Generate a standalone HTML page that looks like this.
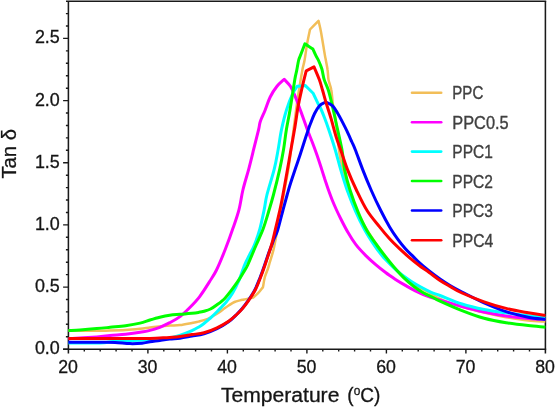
<!DOCTYPE html>
<html><head><meta charset="utf-8"><title>Tan delta vs Temperature</title>
<style>html,body{margin:0;padding:0;background:#fff}body{width:555px;height:408px;overflow:hidden}</style></head>
<body>
<svg width="555" height="408" viewBox="0 0 555 408" style="display:block;will-change:transform;font-family:'Liberation Sans',sans-serif">
<rect width="555" height="408" fill="#fff"/>
<g stroke="#1a1a1a" stroke-width="1.55" fill="none">
<path d="M66.0 1.2H546.2"/>
<path d="M63.1 349.2H546.2"/>
<path d="M68.4 1.2V353.5"/>
<path d="M545.4 1.2V353.5"/>
</g>
<path stroke="#1a1a1a" stroke-width="1.4" fill="none" d="M68.4 349.2h-5.3M68.4 336.8h-2.5M68.4 324.3h-2.5M68.4 311.9h-2.5M68.4 299.5h-2.5M68.4 287.1h-5.3M68.4 274.6h-2.5M68.4 262.2h-2.5M68.4 249.8h-2.5M68.4 237.3h-2.5M68.4 224.9h-5.3M68.4 212.5h-2.5M68.4 200.0h-2.5M68.4 187.6h-2.5M68.4 175.2h-2.5M68.4 162.8h-5.3M68.4 150.3h-2.5M68.4 137.9h-2.5M68.4 125.5h-2.5M68.4 113.0h-2.5M68.4 100.6h-5.3M68.4 88.2h-2.5M68.4 75.7h-2.5M68.4 63.3h-2.5M68.4 50.9h-2.5M68.4 38.4h-5.3M68.4 26.0h-2.5M68.4 13.6h-2.5M84.3 349.2v2.4M100.2 349.2v2.4M116.1 349.2v2.4M132.0 349.2v2.4M147.9 349.2v4.3M163.8 349.2v2.4M179.7 349.2v2.4M195.6 349.2v2.4M211.5 349.2v2.4M227.4 349.2v4.3M243.3 349.2v2.4M259.2 349.2v2.4M275.1 349.2v2.4M291.0 349.2v2.4M306.9 349.2v4.3M322.8 349.2v2.4M338.7 349.2v2.4M354.6 349.2v2.4M370.5 349.2v2.4M386.4 349.2v4.3M402.3 349.2v2.4M418.2 349.2v2.4M434.1 349.2v2.4M450.0 349.2v2.4M465.9 349.2v4.3M481.8 349.2v2.4M497.7 349.2v2.4M513.6 349.2v2.4M529.5 349.2v2.4"/>
<g fill="none" stroke-width="3.00" stroke-linejoin="round" stroke-linecap="butt">
<path stroke="#f2be58" stroke-width="2.5" d="M68.4 330.6 C73.1 330.6 89.9 330.8 96.8 330.8 C103.7 330.8 105.2 330.6 110.0 330.5 C114.8 330.4 120.6 330.3 125.6 330.0 C130.6 329.7 135.9 329.2 140.0 328.8 C144.1 328.4 146.7 327.9 150.0 327.5 C153.3 327.1 156.7 326.8 160.0 326.5 C163.3 326.2 166.7 325.7 170.0 325.5 C173.3 325.3 176.3 325.5 180.0 325.1 C183.7 324.7 188.9 323.5 192.0 322.9 C195.1 322.3 196.5 322.1 198.5 321.6 C200.5 321.1 202.0 320.8 204.0 320.1 C206.0 319.4 208.3 318.6 210.5 317.5 C212.7 316.4 214.9 315.1 217.0 313.8 C219.1 312.5 221.0 310.9 223.0 309.5 C225.0 308.1 227.1 306.6 229.0 305.3 C230.9 304.1 232.7 302.8 234.5 302.0 C236.3 301.2 238.4 300.8 240.0 300.4 C241.6 300.0 242.7 299.8 244.0 299.5 C245.3 299.2 246.5 299.1 248.0 298.8 C249.5 298.5 252.3 297.7 253.2 297.5 C254.0 296.8 256.5 294.9 258.1 293.2 C259.7 291.5 262.2 288.1 263.0 287.1 C263.3 285.5 264.0 280.4 264.8 277.3 C265.6 274.2 267.1 270.9 267.9 268.7 C268.6 266.5 268.4 267.2 269.3 264.0 C270.2 260.8 272.1 255.4 273.5 249.6 C274.9 243.8 276.2 235.8 277.5 229.0 C278.8 222.2 279.8 215.5 281.0 209.0 C282.2 202.5 283.2 197.3 284.5 190.0 C285.8 182.7 287.5 175.2 289.0 165.0 C290.5 154.8 292.3 139.6 293.7 128.6 C295.1 117.6 296.4 107.4 297.6 99.2 C298.8 91.0 299.9 84.7 300.7 79.6 C301.5 74.5 302.0 72.1 302.6 68.8 C303.2 65.5 303.9 64.2 304.6 60.0 C305.4 55.8 306.2 48.9 307.1 43.8 C308.0 38.7 309.5 31.9 310.0 29.5 C311.4 28.1 317.1 22.2 318.5 20.8 C318.9 22.7 320.0 26.4 321.0 32.0 C322.0 37.5 323.9 49.4 324.7 54.1 C325.5 58.8 325.3 57.4 325.8 60.0 C326.3 62.6 327.2 66.7 327.6 70.0 C328.1 73.3 327.9 76.3 328.5 79.6 C329.1 82.9 330.6 85.8 331.3 90.0 C332.1 94.2 332.2 99.5 333.0 105.0 C333.8 110.5 334.9 114.7 336.0 123.0 C337.1 131.3 338.5 147.2 339.7 155.0 C340.9 162.8 341.6 163.8 343.1 169.6 C344.6 175.4 346.5 183.8 348.5 190.0 C350.5 196.2 352.6 201.5 355.0 207.0 C357.4 212.5 359.6 217.0 363.0 223.0 C366.4 229.0 370.6 235.8 375.5 243.0 C380.4 250.2 386.4 259.4 392.5 266.0 C398.6 272.6 405.8 278.0 412.0 282.5 C418.2 287.0 425.3 290.3 430.0 293.0 C434.7 295.7 434.7 296.6 440.0 298.9 C445.3 301.2 454.7 304.6 462.0 306.9 C469.3 309.2 476.6 310.8 484.0 312.5 C491.4 314.2 498.7 315.9 506.1 317.2 C513.5 318.5 521.7 319.8 528.2 320.5 C534.8 321.2 542.5 321.4 545.4 321.6"/>
<path stroke="#ff00ff" d="M68.4 338.7 C73.1 338.4 89.9 337.5 96.8 337.0 C103.7 336.5 105.2 336.0 110.0 335.5 C114.8 335.0 120.6 334.8 125.6 334.2 C130.6 333.6 136.3 332.8 140.0 332.2 C143.7 331.6 144.7 331.7 148.0 330.9 C151.3 330.1 156.2 328.8 159.8 327.4 C163.4 326.0 166.4 324.4 169.7 322.7 C173.0 320.9 176.3 319.4 179.6 316.9 C182.9 314.4 186.3 311.0 189.6 307.7 C192.9 304.4 196.2 301.1 199.5 296.8 C202.8 292.5 206.6 286.4 209.4 281.9 C212.2 277.4 213.8 275.5 216.5 270.0 C219.2 264.5 222.7 255.9 225.5 248.8 C228.3 241.7 231.1 233.8 233.3 227.3 C235.6 220.8 237.4 215.8 239.0 209.6 C240.6 203.4 241.3 196.8 242.9 190.0 C244.5 183.2 247.0 175.6 248.8 168.8 C250.6 162.0 252.1 155.7 253.7 149.2 C255.3 142.7 257.5 134.2 258.6 129.6 C259.7 125.0 259.2 124.8 260.3 121.5 C261.4 118.2 263.6 114.1 265.2 110.0 C266.8 105.9 268.2 101.0 270.2 97.0 C272.2 93.0 274.7 89.2 277.0 86.3 C279.3 83.3 283.0 80.5 284.2 79.3 C285.2 80.5 288.6 83.5 290.4 86.3 C292.2 89.1 293.2 91.7 295.0 95.9 C296.8 100.1 298.8 106.0 300.9 111.6 C302.9 117.2 305.4 124.3 307.3 129.5 C309.2 134.7 310.8 138.3 312.4 142.5 C314.0 146.7 315.4 150.5 316.8 154.5 C318.2 158.5 319.5 162.5 320.8 166.5 C322.1 170.5 323.4 174.7 324.6 178.5 C325.9 182.3 327.0 185.9 328.3 189.5 C329.6 193.1 330.9 196.7 332.2 200.0 C333.5 203.3 334.9 206.4 336.3 209.5 C337.7 212.6 338.7 214.7 340.6 218.5 C342.5 222.3 345.3 227.9 347.9 232.3 C350.4 236.7 352.9 240.8 355.9 244.7 C358.9 248.6 362.5 252.3 365.8 255.6 C369.1 258.9 372.4 261.8 375.7 264.6 C379.0 267.4 382.3 270.0 385.6 272.5 C388.9 275.0 392.2 277.2 395.5 279.4 C398.8 281.5 402.1 283.5 405.4 285.4 C408.7 287.3 411.2 288.8 415.3 290.8 C419.4 292.8 425.9 295.7 430.0 297.2 C434.1 298.7 434.7 298.4 440.0 300.0 C445.3 301.6 454.6 304.5 462.0 306.5 C469.4 308.5 476.8 310.4 484.1 312.0 C491.5 313.6 498.8 314.9 506.1 316.0 C513.5 317.1 521.7 317.8 528.2 318.4 C534.8 319.0 542.5 319.3 545.4 319.5"/>
<path stroke="#00ffff" d="M68.4 343.1 C73.7 343.1 93.4 343.0 100.0 342.9 C106.6 342.8 105.5 342.6 108.0 342.3 C110.5 342.0 112.2 341.5 115.0 341.2 C117.8 340.9 120.8 340.8 125.0 340.7 C129.2 340.6 134.2 340.5 140.0 340.3 C145.8 340.1 155.0 339.7 160.0 339.3 C165.0 338.9 166.7 338.6 170.0 338.0 C173.3 337.4 175.9 336.6 179.6 335.4 C183.3 334.2 188.8 332.0 192.0 330.6 C195.2 329.2 196.5 328.4 198.5 327.2 C200.5 326.0 202.0 325.0 204.0 323.5 C206.0 322.0 208.3 319.9 210.5 318.0 C212.7 316.1 215.1 313.7 217.0 311.8 C218.9 309.9 220.4 308.2 222.0 306.5 C223.6 304.8 224.8 303.8 226.6 301.5 C228.4 299.2 230.6 296.4 232.6 293.0 C234.6 289.6 236.7 285.7 238.7 281.0 C240.7 276.3 242.8 269.3 244.6 265.0 C246.4 260.7 247.9 258.3 249.5 255.0 C251.1 251.7 252.7 249.3 254.4 245.0 C256.1 240.7 258.2 235.1 259.8 229.2 C261.4 223.3 263.0 215.3 264.2 209.6 C265.4 203.9 265.2 201.8 266.9 195.0 C268.6 188.2 272.4 176.4 274.3 168.8 C276.2 161.2 277.0 155.7 278.2 149.2 C279.4 142.7 280.1 136.1 281.5 129.6 C282.9 123.1 284.6 116.0 286.5 110.0 C288.4 104.0 291.0 97.2 292.8 93.3 C294.6 89.3 296.5 87.5 297.2 86.3 C298.5 86.2 303.8 85.6 305.1 85.4 C306.4 86.7 311.8 91.9 313.1 93.2 C313.9 94.9 316.9 101.3 318.0 103.5 C319.1 105.7 318.7 104.2 319.8 106.5 C320.9 108.8 322.8 113.4 324.4 117.5 C326.0 121.6 327.5 125.8 329.3 131.2 C331.1 136.6 333.4 143.6 335.3 150.0 C337.2 156.4 338.7 162.9 340.7 169.6 C342.7 176.3 344.7 183.1 347.1 190.0 C349.6 196.9 352.5 204.2 355.4 210.8 C358.3 217.4 361.6 224.2 364.5 229.5 C367.4 234.8 369.8 238.5 372.7 242.8 C375.6 247.2 378.9 251.8 382.0 255.6 C385.1 259.4 388.3 262.4 391.5 265.5 C394.7 268.6 398.1 271.9 401.4 274.5 C404.7 277.1 408.1 279.3 411.4 281.4 C414.7 283.5 418.0 285.5 421.3 287.3 C424.6 289.1 428.1 290.9 431.2 292.3 C434.3 293.7 434.9 293.6 440.0 295.5 C445.1 297.4 454.6 301.7 462.0 304.0 C469.4 306.3 476.8 308.0 484.1 309.5 C491.5 311.0 498.8 311.8 506.1 312.8 C513.5 313.9 521.7 315.1 528.2 315.8 C534.8 316.5 542.5 317.0 545.4 317.2"/>
<path stroke="#00ff00" d="M68.4 330.5 C70.3 330.4 75.3 330.3 80.0 330.0 C84.7 329.7 91.8 329.1 96.8 328.6 C101.8 328.2 105.2 327.8 110.0 327.3 C114.8 326.8 120.6 326.4 125.6 325.7 C130.6 325.0 135.9 324.1 140.0 323.1 C144.1 322.2 146.6 321.0 149.9 320.0 C153.2 319.0 156.5 318.0 159.8 317.2 C163.1 316.4 166.3 315.7 169.7 315.2 C173.1 314.7 176.3 314.6 180.0 314.3 C183.7 314.0 188.9 313.5 192.0 313.2 C195.1 312.9 196.5 312.7 198.5 312.4 C200.5 312.1 202.0 311.9 204.0 311.3 C206.0 310.7 208.3 310.1 210.5 309.0 C212.7 307.9 214.6 306.6 217.0 304.8 C219.4 303.0 222.7 300.6 225.0 298.2 C227.3 295.8 229.0 293.4 231.1 290.7 C233.2 288.0 235.2 285.2 237.3 282.2 C239.4 279.1 241.7 275.3 243.4 272.4 C245.1 269.5 245.6 269.6 247.7 265.0 C249.8 260.4 253.6 251.0 256.2 245.0 C258.8 239.0 260.9 234.7 263.0 229.2 C265.1 223.7 266.8 217.7 268.5 212.0 C270.2 206.3 271.5 202.2 273.4 195.0 C275.3 187.8 278.1 176.4 279.8 168.8 C281.5 161.2 282.5 155.7 283.6 149.2 C284.7 142.7 285.3 136.1 286.4 129.6 C287.5 123.1 288.6 118.3 290.0 110.0 C291.4 101.7 293.7 86.3 294.8 79.6 C295.9 72.9 296.2 73.3 296.8 70.0 C297.4 66.7 298.1 62.4 298.7 60.0 C299.3 57.6 299.4 58.3 300.4 55.6 C301.4 52.9 304.1 45.8 304.9 43.8 C306.2 44.7 311.6 48.1 312.9 49.0 C313.4 50.1 315.0 53.8 315.9 55.6 C316.8 57.4 317.3 57.8 318.3 60.0 C319.3 62.2 320.8 65.5 321.8 68.8 C322.8 72.1 323.1 76.1 324.2 79.6 C325.3 83.1 326.9 85.7 328.3 90.0 C329.7 94.3 331.0 100.2 332.3 105.7 C333.6 111.2 334.6 115.9 336.2 123.3 C337.8 130.7 340.6 142.3 342.0 150.0 C343.4 157.7 343.3 162.9 344.6 169.6 C345.9 176.3 347.7 182.8 350.0 190.0 C352.3 197.2 355.5 206.0 358.3 212.7 C361.1 219.4 363.5 224.6 366.6 230.0 C369.7 235.4 373.6 240.7 376.7 245.0 C379.8 249.3 382.2 252.4 385.0 256.0 C387.8 259.6 390.4 262.9 393.5 266.5 C396.6 270.1 400.1 274.1 403.4 277.4 C406.7 280.6 410.0 283.4 413.3 286.0 C416.6 288.6 420.0 290.9 423.3 292.8 C426.6 294.7 430.2 296.1 433.0 297.5 C435.8 298.9 435.2 298.9 440.0 301.1 C444.8 303.3 454.6 307.7 462.0 310.6 C469.4 313.5 476.8 316.3 484.1 318.3 C491.5 320.3 498.8 321.6 506.1 322.8 C513.5 324.0 521.7 324.9 528.2 325.6 C534.8 326.3 542.5 326.9 545.4 327.2"/>
<path stroke="#0000ff" d="M68.4 342.3 C73.7 342.3 92.2 342.3 100.0 342.3 C107.8 342.3 110.0 342.2 115.0 342.4 C120.0 342.6 125.5 343.5 130.0 343.6 C134.5 343.7 138.7 343.5 142.0 343.2 C145.3 342.9 146.9 342.3 149.9 341.8 C152.9 341.3 156.5 340.9 159.8 340.4 C163.1 339.9 166.3 339.4 169.7 339.0 C173.1 338.6 176.3 338.7 180.0 338.2 C183.7 337.7 188.0 336.8 192.0 336.1 C196.0 335.4 199.8 335.0 204.0 333.8 C208.2 332.6 212.9 330.7 217.0 328.7 C221.1 326.7 225.2 324.2 228.5 321.8 C231.8 319.4 234.8 316.2 237.1 314.0 C239.3 311.8 240.2 310.9 242.0 308.8 C243.8 306.7 245.7 304.3 247.8 301.2 C249.9 298.1 252.8 293.9 254.8 290.0 C256.8 286.1 258.4 281.8 260.0 277.8 C261.6 273.8 263.0 269.8 264.3 266.0 C265.6 262.2 266.8 258.5 268.0 255.0 C269.2 251.5 270.8 247.7 271.8 245.0 C272.8 242.3 273.0 241.5 274.0 239.0 C275.0 236.5 276.2 234.8 277.7 230.0 C279.2 225.2 281.4 215.8 283.0 210.0 C284.6 204.2 286.2 198.3 287.1 195.0 C288.0 191.7 287.8 192.5 288.5 190.0 C289.2 187.5 290.4 183.7 291.6 180.0 C292.8 176.3 294.2 172.2 295.6 168.0 C297.0 163.8 298.8 158.8 300.2 154.5 C301.6 150.2 302.9 146.1 304.2 142.0 C305.5 137.9 307.1 133.1 308.2 130.0 C309.2 126.9 309.4 126.2 310.5 123.5 C311.6 120.8 313.1 116.5 314.6 113.5 C316.1 110.5 317.9 107.5 319.5 105.7 C321.1 103.9 323.2 103.2 324.4 102.7 C325.5 102.2 325.1 101.9 326.4 102.4 C327.7 102.9 330.5 104.0 332.3 105.7 C334.1 107.4 335.6 109.9 337.2 112.5 C338.8 115.1 340.5 118.3 342.1 121.4 C343.7 124.5 345.4 127.8 347.0 131.2 C348.6 134.6 350.5 138.9 351.9 142.0 C353.3 145.1 353.6 145.4 355.4 150.0 C357.2 154.6 360.1 162.9 362.7 169.6 C365.3 176.3 368.1 183.1 371.1 190.0 C374.1 196.9 377.8 204.7 380.9 210.8 C384.0 217.0 386.8 222.2 389.6 226.9 C392.4 231.6 394.9 235.2 397.5 238.8 C400.1 242.4 402.8 245.7 405.4 248.7 C408.0 251.7 411.0 254.3 413.3 256.6 C415.6 258.9 416.7 260.2 419.3 262.6 C421.9 265.0 425.8 268.3 429.2 271.0 C432.6 273.7 436.5 276.6 440.0 279.0 C443.5 281.4 446.3 283.3 450.0 285.5 C453.7 287.7 456.3 289.1 462.0 292.0 C467.7 294.9 476.8 299.7 484.1 303.0 C491.5 306.3 498.8 309.3 506.1 311.7 C513.5 314.1 521.7 315.9 528.2 317.2 C534.8 318.5 542.5 319.0 545.4 319.4"/>
<path stroke="#ff0000" d="M68.4 338.6 C73.7 338.6 88.1 338.6 100.0 338.6 C111.9 338.6 131.7 338.4 140.0 338.4 C148.3 338.4 146.6 338.5 149.9 338.4 C153.2 338.3 156.5 338.2 159.8 338.0 C163.1 337.8 166.3 337.7 169.7 337.4 C173.1 337.1 176.3 336.9 180.0 336.4 C183.7 335.9 188.0 335.2 192.0 334.6 C196.0 334.0 199.8 333.8 204.0 332.7 C208.2 331.6 212.8 329.8 217.0 327.8 C221.2 325.9 225.5 323.4 229.0 321.0 C232.5 318.6 235.5 315.6 237.8 313.5 C240.1 311.4 240.9 310.4 242.7 308.3 C244.5 306.2 246.4 303.8 248.5 300.7 C250.6 297.6 253.5 293.4 255.5 289.5 C257.5 285.6 259.0 281.4 260.6 277.3 C262.2 273.2 263.2 270.4 265.0 265.0 C266.8 259.6 269.8 250.8 271.5 245.0 C273.2 239.2 273.8 235.9 275.2 230.0 C276.6 224.1 278.7 215.4 280.0 209.6 C281.3 203.8 281.6 201.8 282.9 195.0 C284.2 188.2 286.2 176.4 287.6 168.8 C289.0 161.2 289.9 155.7 291.0 149.2 C292.1 142.7 293.4 136.1 294.5 129.6 C295.6 123.1 296.7 114.9 297.5 110.0 C298.3 105.1 298.7 103.4 299.4 100.0 C300.1 96.6 300.6 94.3 301.7 89.4 C302.8 84.5 305.4 73.9 306.2 70.8 C307.5 70.2 312.7 67.6 314.0 66.9 C314.9 69.0 317.9 75.8 319.3 79.6 C320.7 83.4 321.3 86.0 322.5 90.0 C323.7 94.0 324.9 98.8 326.4 103.7 C327.9 108.6 329.7 113.8 331.3 119.4 C332.9 125.0 334.6 132.0 336.2 137.1 C337.8 142.2 338.8 144.6 340.7 150.0 C342.6 155.4 344.9 162.9 347.5 169.6 C350.1 176.3 353.1 183.1 356.4 190.0 C359.7 196.9 363.3 204.7 367.2 210.8 C371.1 217.0 375.9 222.2 379.6 226.9 C383.3 231.6 386.3 235.2 389.6 238.8 C392.9 242.4 396.2 245.6 399.5 248.7 C402.8 251.8 406.1 254.8 409.4 257.6 C412.7 260.4 416.0 263.0 419.3 265.5 C422.6 268.0 425.8 270.0 429.2 272.5 C432.6 275.0 436.5 278.2 440.0 280.5 C443.5 282.8 446.3 284.3 450.0 286.4 C453.7 288.5 456.3 290.4 462.0 293.0 C467.7 295.6 476.8 299.2 484.1 301.8 C491.5 304.4 498.8 306.6 506.1 308.4 C513.5 310.2 521.7 311.6 528.2 312.8 C534.8 314.0 542.5 315.1 545.4 315.5"/>
</g>
<g fill="#151515" stroke="#151515" stroke-width="0.3" font-size="18.3px">
<text x="59.8" y="354.2" text-anchor="end" textLength="24.9" lengthAdjust="spacingAndGlyphs">0.0</text>
<text x="59.8" y="292.1" text-anchor="end" textLength="24.9" lengthAdjust="spacingAndGlyphs">0.5</text>
<text x="59.8" y="229.9" text-anchor="end" textLength="24.9" lengthAdjust="spacingAndGlyphs">1.0</text>
<text x="59.8" y="167.8" text-anchor="end" textLength="24.9" lengthAdjust="spacingAndGlyphs">1.5</text>
<text x="59.8" y="105.6" text-anchor="end" textLength="24.9" lengthAdjust="spacingAndGlyphs">2.0</text>
<text x="59.8" y="43.4" text-anchor="end" textLength="24.9" lengthAdjust="spacingAndGlyphs">2.5</text>
<text x="68.1" y="373.2" text-anchor="middle" textLength="19.7" lengthAdjust="spacingAndGlyphs">20</text>
<text x="147.6" y="373.2" text-anchor="middle" textLength="19.7" lengthAdjust="spacingAndGlyphs">30</text>
<text x="227.1" y="373.2" text-anchor="middle" textLength="19.7" lengthAdjust="spacingAndGlyphs">40</text>
<text x="306.6" y="373.2" text-anchor="middle" textLength="19.7" lengthAdjust="spacingAndGlyphs">50</text>
<text x="386.1" y="373.2" text-anchor="middle" textLength="19.7" lengthAdjust="spacingAndGlyphs">60</text>
<text x="465.6" y="373.2" text-anchor="middle" textLength="19.7" lengthAdjust="spacingAndGlyphs">70</text>
<text x="545.1" y="373.2" text-anchor="middle" textLength="19.7" lengthAdjust="spacingAndGlyphs">80</text>
</g>
<g fill="#151515" stroke="#151515" stroke-width="0.3" font-size="20px">
<text x="220.9" y="401.6" textLength="118.5" lengthAdjust="spacingAndGlyphs">Temperature</text>
<text x="347.3" y="401.6" textLength="33" lengthAdjust="spacingAndGlyphs">(<tspan font-size="12.5px" dy="-6.8">o</tspan><tspan dy="6.8">C)</tspan></text>
<text transform="translate(15.7 178.6) rotate(-90)" textLength="49.6" lengthAdjust="spacingAndGlyphs">Tan δ</text>
</g>
<g font-size="17.9px" fill="#404040">
<path d="M412 92.7H441.2" stroke="#f2be58" stroke-width="2.6" stroke-linecap="round" fill="none"/>
<text x="452.3" y="99.3" textLength="31.0" lengthAdjust="spacingAndGlyphs" stroke="#404040" stroke-width="0.35">PPC</text>
<path d="M412 122.3H441.2" stroke="#ff00ff" stroke-width="2.6" stroke-linecap="round" fill="none"/>
<text x="452.3" y="128.9" textLength="56.3" lengthAdjust="spacingAndGlyphs" stroke="#404040" stroke-width="0.35">PPC0.5</text>
<path d="M412 151.6H441.2" stroke="#00ffff" stroke-width="2.6" stroke-linecap="round" fill="none"/>
<text x="452.3" y="158.2" textLength="40.5" lengthAdjust="spacingAndGlyphs" stroke="#404040" stroke-width="0.35">PPC1</text>
<path d="M412 181.0H441.2" stroke="#00ff00" stroke-width="2.6" stroke-linecap="round" fill="none"/>
<text x="452.3" y="187.6" textLength="40.7" lengthAdjust="spacingAndGlyphs" stroke="#404040" stroke-width="0.35">PPC2</text>
<path d="M412 210.5H441.2" stroke="#0000ff" stroke-width="2.6" stroke-linecap="round" fill="none"/>
<text x="452.3" y="217.1" textLength="40.7" lengthAdjust="spacingAndGlyphs" stroke="#404040" stroke-width="0.35">PPC3</text>
<path d="M412 240.3H441.2" stroke="#ff0000" stroke-width="2.6" stroke-linecap="round" fill="none"/>
<text x="452.3" y="246.9" textLength="41.0" lengthAdjust="spacingAndGlyphs" stroke="#404040" stroke-width="0.35">PPC4</text>
</g>
</svg>
</body></html>
